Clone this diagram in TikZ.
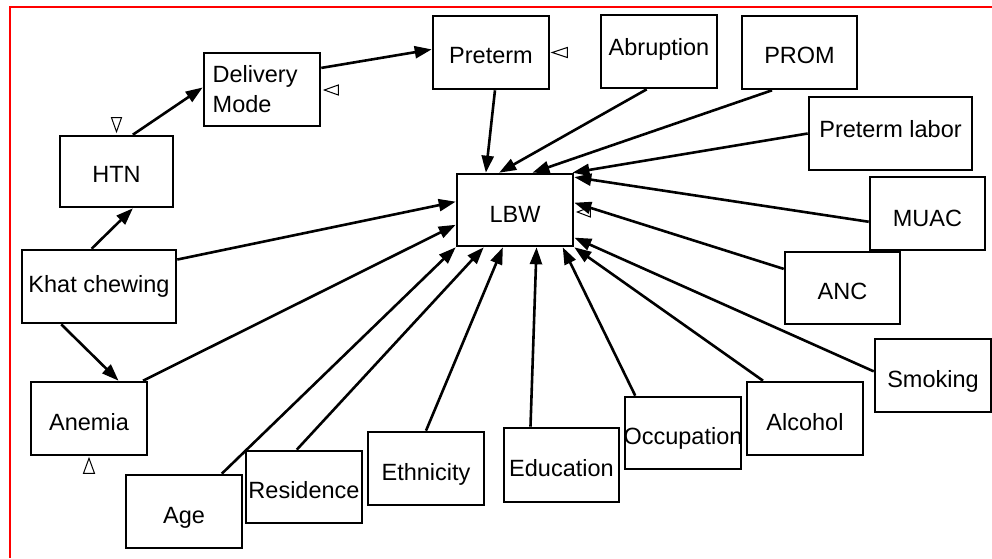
\documentclass[tikz,border=0pt]{standalone}
\usepackage{fontspec}
\setmainfont{Liberation Sans}
\usetikzlibrary{arrows.meta,calc}
\begin{document}
\begin{tikzpicture}[x=0.5pt,y=-0.5pt,
  box/.style={draw, line width=1.3pt, inner sep=0pt,
    minimum width=58pt, minimum height=36.5pt,
    font=\fontsize{11.75pt}{15pt}\selectfont},
  bl/.style={text height=#1, text depth=0pt},
  arr/.style={line width=1.3pt, -{Triangle[length=8.5pt,width=6pt]}},
  tri/.style={line width=0.5pt, line join=miter},
  frame/.style={red, line width=1pt}]
\useasboundingbox (0,0) rectangle (992,558);

% frame
\draw[frame] (10,558) -- (10,7) -- (992,7);

% variables
\node[box, bl=12pt, minimum height=36pt] (lbw) at (515,210) {LBW};
\node[box, bl=10.5pt] (pre) at (491,52.5) {Preterm};
\node[box, bl=3.5pt] (abr) at (659,51.5) {Abruption};
\node[box, bl=10.5pt, minimum width=57.5pt] (prom) at (799.5,52.5) {PROM};
\node[box, bl=3.5pt, minimum width=81.5pt] (pl) at (890.5,133.5) {Preterm labor};
\node[box, bl=12.5pt, minimum width=57.5pt] (muac) at (927.5,213.5) {MUAC};
\node[box, bl=11pt, minimum width=57.5pt, minimum height=36pt] (anc) at (842.5,288) {ANC};
\node[box, bl=11.5pt] (smok) at (933,375.5) {Smoking};
\node[box, bl=11.5pt] (alc) at (805,418.5) {Alcohol};
\node[box, bl=11pt, minimum height=36pt] (occ) at (683,433) {\makebox[0pt]{Occupation}};
\node[box, bl=11pt, minimum width=57.5pt, minimum height=37pt] (edu) at (561.5,465) {Education};
\node[box, bl=11.5pt] (eth) at (426,468.5) {Ethnicity};
\node[box, bl=11pt, minimum height=36pt] (res) at (304,487) {Residence};
\node[box, bl=11.5pt] (age) at (184,511.5) {Age};
\node[box, bl=11.5pt] (an) at (89,418.5) {Anemia};
\node[box, bl=5.5pt, minimum width=77pt] (khat) at (99,286.5) {Khat chewing};
\node[box, bl=10.5pt, minimum width=56.5pt, minimum height=35.5pt] (htn) at (116.5,171.5) {HTN};
\node[box, align=left, text width=49.3pt, inner xsep=4.35pt] (dm) at (262,89.5) {Delivery\\Mode};

% small open markers
\draw[tri] ($(htn.north)+(0,-3)$) -- ++(-5,-14) -- ++(10,0) -- cycle;
\draw[tri] ($(dm.east)+(3,0.5)$) -- ++(14,-5) -- ++(0,10) -- cycle;
\draw[tri] ($(pre.east)+(2,0)$) -- ++(15,-5) -- ++(0,10) -- cycle;
\draw[tri] ($(lbw.east)+(3,2)$) -- ++(13,-5) -- ++(0,10) -- cycle;
\draw[tri] ($(an.south)+(0,2)$) -- ++(-5.5,15) -- ++(11,0) -- cycle;

% causal arrows
\draw[arr] (htn.66) -- (dm.178);
\draw[arr] (khat.101) -- (htn.-66);
\draw[arr] (khat.-135) -- (an.52);
\draw[arr] (dm.20) -- (pre.177);
\draw[arr] (pre.-84) -- (lbw.128);
\draw[arr] (abr.-108) -- (lbw.113);
\draw[arr] (prom.-126) -- (lbw.65);
\draw[arr] (pl.west) -- (lbw.33);
\draw[arr] (muac.188) -- (lbw.29);
\draw[arr] (anc.162) -- (lbw.7);
\draw[arr] (smok.176) -- (lbw.-25);
\draw[arr] (alc.138) -- (lbw.south east);
\draw[arr] (occ.142) -- (lbw.-38);
\draw[arr] (edu.129) -- (lbw.-60);
\draw[arr] (eth.north) -- (lbw.-108);
\draw[arr] (res.101) -- (lbw.-130);
\draw[arr] (age.45) -- (lbw.south west);
\draw[arr] (an.35) -- (lbw.-166);
\draw[arr] (khat.19) -- (lbw.172);
\end{tikzpicture}
\end{document}
